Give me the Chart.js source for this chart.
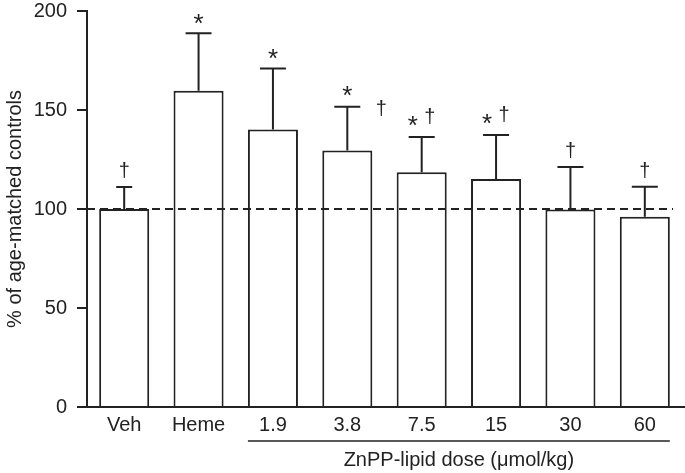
<!DOCTYPE html>
<html>
<head>
<meta charset="utf-8">
<script src="https://cdn.jsdelivr.net/npm/chart.js@4/dist/chart.umd.min.js"></script>
<style>
  body { margin: 0; background: #fff; }
  #wrap { width: 685px; height: 473px; }
</style>
</head>
<body>
<div id="wrap"><canvas id="myChart" width="685" height="473"></canvas></div>
<script>
// data
var categorias = ['Veh', 'Heme', '1.9', '3.8', '7.5', '15', '30', '60'];
var medias = [100, 159.7, 140.2, 129.6, 118.5, 115.2, 99.8, 96.1];
var erroTopo = [111.1, 188.7, 171, 151.7, 136.4, 137.4, 121.2, 111.3];
var asterisco = [false, true, true, true, true, true, false, false];
var adaga = [true, false, false, true, true, true, true, true];
var yTicks = [0, 50, 100, 150, 200];
var linhaReferencia = 100;
var tituloGrupo = 'ZnPP-lipid dose (\u03bcmol/kg)';
var primeiroGrupo = 2; // first bar under the dose underline

var FONTE = "'Liberation Sans', Arial, sans-serif";
Chart.defaults.font.family = FONTE;
Chart.defaults.color = '#222';

// error bars, dashed reference line, significance marks and dose group label
var extras = {
    id: 'extras',
    afterDatasetsDraw: function (chart) {
        var ctx = chart.ctx;
        var y = chart.scales.y;
        var area = chart.chartArea;
        var meta = chart.getDatasetMeta(0);
        ctx.save();
        ctx.strokeStyle = '#222';
        ctx.fillStyle = '#222';

        // x axis line runs a bit past both ends
        ctx.lineWidth = 2;
        ctx.beginPath();
        ctx.moveTo(area.left - 5, area.bottom);
        ctx.lineTo(chart.width, area.bottom);
        ctx.stroke();

        // dashed line at 100
        ctx.setLineDash([8, 5]);
        ctx.beginPath();
        ctx.moveTo(area.left, y.getPixelForValue(linhaReferencia));
        ctx.lineTo(area.right - 9, y.getPixelForValue(linhaReferencia));
        ctx.stroke();
        ctx.setLineDash([]);

        ctx.textAlign = 'center';
        ctx.textBaseline = 'alphabetic';
        for (var i = 0; i < meta.data.length; i++) {
            var bar = meta.data[i];
            var yTop = y.getPixelForValue(medias[i]);
            var yErr = y.getPixelForValue(erroTopo[i]);
            var cap = i == 0 ? 16 : 26;
            ctx.beginPath();
            ctx.moveTo(bar.x, yTop);
            ctx.lineTo(bar.x, yErr);
            ctx.moveTo(bar.x - cap / 2, yErr);
            ctx.lineTo(bar.x + cap / 2, yErr);
            ctx.stroke();

            if (asterisco[i] && adaga[i] && i == 3) {
                ctx.font = '26px ' + FONTE;
                ctx.fillText('*', bar.x, yErr - 3);
                ctx.font = '20px ' + FONTE;
                ctx.fillText('\u2020', bar.x + 34, yErr + 8);
            } else if (asterisco[i] && adaga[i]) {
                ctx.font = '26px ' + FONTE;
                ctx.fillText('*', bar.x - 9, yErr - 3);
                ctx.font = '20px ' + FONTE;
                ctx.fillText('\u2020', bar.x + 8, yErr - 14);
            } else if (asterisco[i]) {
                ctx.font = '26px ' + FONTE;
                ctx.fillText('*', bar.x, yErr - 1);
            } else if (adaga[i]) {
                ctx.font = '20px ' + FONTE;
                ctx.fillText('\u2020', bar.x, yErr - 10);
            }
        }

        // underline + title for the ZnPP doses
        var b0 = meta.data[primeiroGrupo];
        var b1 = meta.data[meta.data.length - 1];
        var esq = b0.x - b0.width / 2;
        var dir = b1.x + b1.width / 2;
        var base = chart.scales.x.bottom;
        ctx.lineWidth = 1.5;
        ctx.beginPath();
        ctx.moveTo(esq, base - 32);
        ctx.lineTo(dir, base - 32);
        ctx.stroke();
        ctx.font = '20px ' + FONTE;
        ctx.textBaseline = 'middle';
        ctx.fillText(tituloGrupo, (esq + dir) / 2, base - 13);
        ctx.restore();
    }
};

var grafico = new Chart(document.getElementById('myChart'), {
    type: 'bar',
    data: {
        labels: categorias,
        datasets: [{
            data: medias,
            backgroundColor: '#fff',
            borderColor: '#222',
            borderWidth: 2,
            barPercentage: 0.673,
            categoryPercentage: 1
        }]
    },
    options: {
        responsive: false,
        animation: false,
        layout: { padding: { top: 11, right: 3, left: 0, bottom: 0 } },
        plugins: { legend: { display: false }, tooltip: { enabled: false } },
        scales: {
            x: {
                grid: { display: false, drawTicks: false },
                border: { display: false },
                ticks: { padding: 6, font: { size: 20 }, color: '#222' },
                afterFit: function (s) { s.height = 66; }
            },
            y: {
                min: 0,
                max: 200,
                afterBuildTicks: function (s) {
                    s.ticks = yTicks.map(function (v) { return { value: v }; });
                },
                grid: { drawOnChartArea: false, tickLength: 10, lineWidth: 2, color: '#222' },
                border: { display: true, color: '#222', width: 2 },
                ticks: { padding: 10, font: { size: 20 }, color: '#222' },
                title: {
                    display: true,
                    text: '% of age-matched controls',
                    font: { size: 20 },
                    color: '#222',
                    padding: { top: 3, bottom: 0 }
                },
                afterFit: function (s) {
                    s.width = 87;
                    s.paddingTop = 0;
                    s.paddingBottom = 0;
                }
            }
        }
    },
    plugins: [extras]
});
</script>
</body>
</html>
